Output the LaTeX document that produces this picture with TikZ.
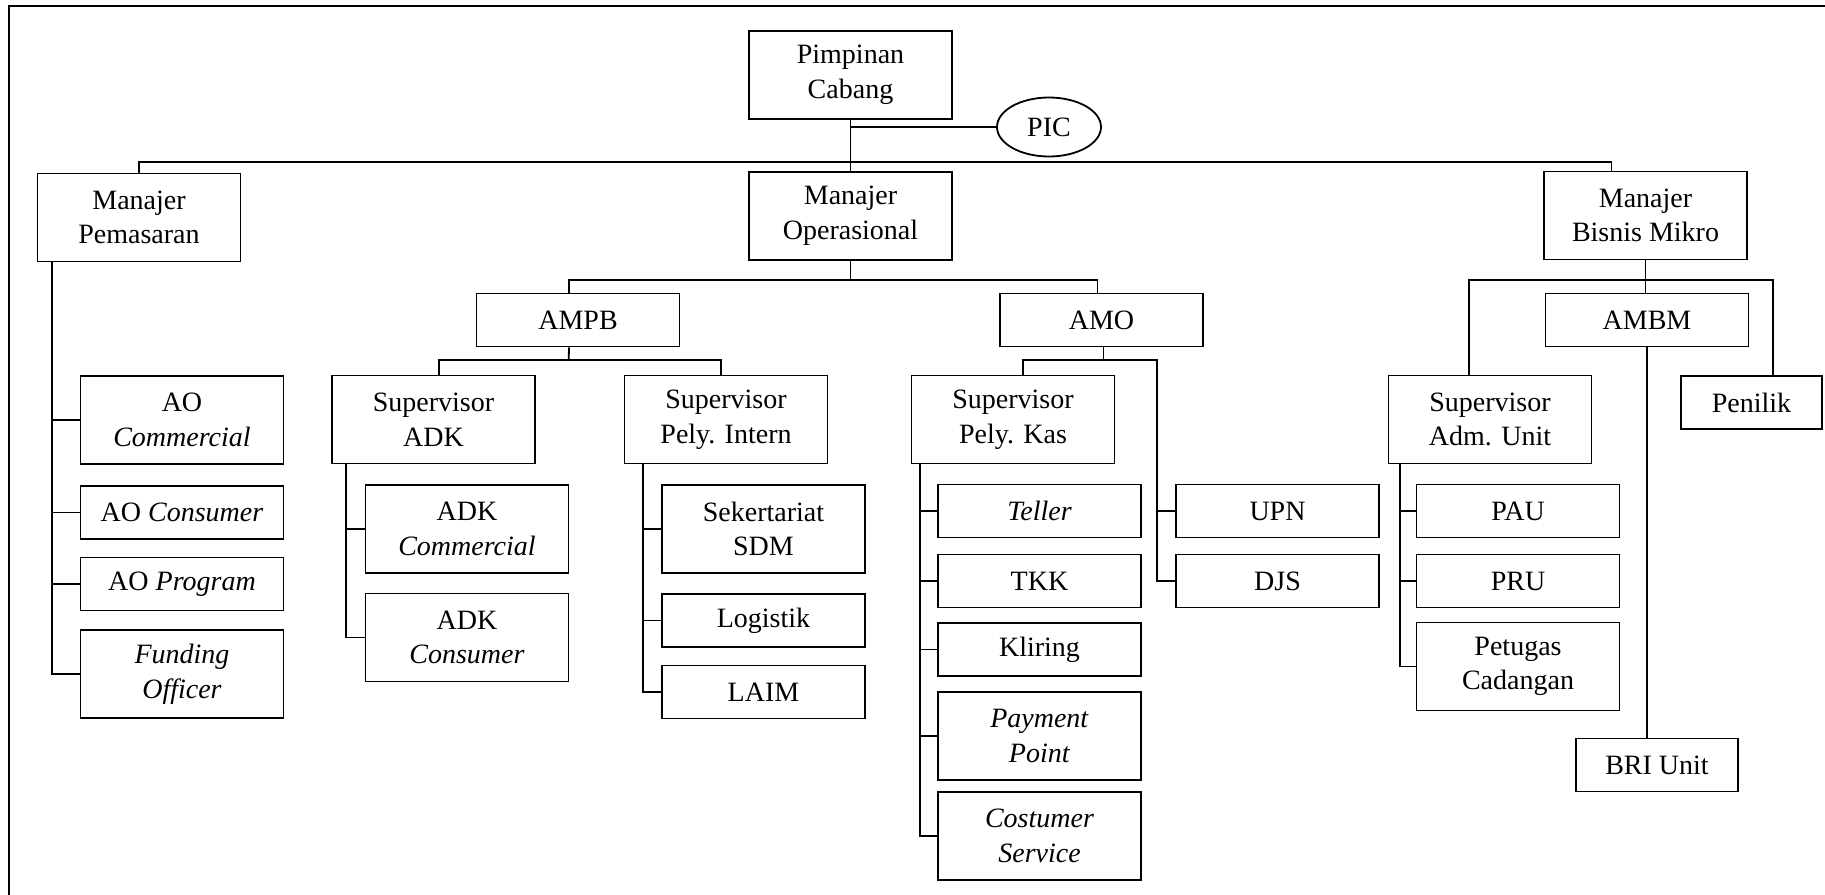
\documentclass[tikz,border=0pt]{standalone}
\usepackage{fontspec}
\setmainfont{Liberation Serif}
\usetikzlibrary{shapes.geometric,calc}

\tikzset{
  unit/.style={draw, line width=0.9pt, minimum width=101.5pt, minimum height=26.5pt,
    inner sep=1pt, align=center, font=\fontsize{14}{17.3}\selectfont},
  unitbig/.style={unit, minimum height=44pt},
  link/.style={line width=0.9pt},
}

\begin{document}
\begin{tikzpicture}[x=0.5pt, y=-0.5pt]
  \useasboundingbox (0,0) rectangle (1825,894);
  \clip (0,0) rectangle (1825,894);
  % Frame
  \draw[line width=1.2pt] (9,950) -- (9,6) -- (1900,6);

  % Top
  \node[unitbig] (pc) at (850.5,75) {Pimpinan\\Cabang};
  \node[ellipse, draw, line width=0.9pt, minimum width=52pt, minimum height=29.5pt, inner sep=0pt,
    font=\fontsize{14}{17.3}\selectfont] (pic) at (1049,127) {PIC};

  % Managers
  \node[unitbig] (mp) at (139,217.5) {Manajer\\Pemasaran};
  \node[unitbig] (mo) at (850.5,216) {Manajer\\Operasional};
  \node[unitbig] (mbm) at (1645.5,215.5) {Manajer\\Bisnis Mikro};

  % Assistant managers
  \node[unit] (ampb) at (578,320) {AMPB};
  \node[unit] (amo) at (1101.5,320) {AMO};
  \node[unit] (ambm) at (1647,320) {AMBM};

  % Pemasaran
  \node[unitbig] (aoc) at (182,420) {AO\\\textit{Commercial}};
  \node[unit] (aocs) at (182,512.5) {AO \textit{Consumer}};
  \node[unit] (aop) at (182,584) {AO \textit{Program}};
  \node[unitbig] (fo) at (182,674) {\textit{Funding}\\\textit{Officer}};

  % AMPB
  \node[unitbig] (sadk) at (433.5,419.5) {Supervisor\\ADK};
  \node[unitbig] (adkc) at (467,529) {ADK\\\textit{Commercial}};
  \node[unitbig] (adkcs) at (467,637.5) {ADK\\\textit{Consumer}};
  \node[unitbig] (spi) at (726,419.5) {Supervisor\\Pely. Intern};
  \node[unitbig] (sdm) at (763.5,529) {Sekertariat\\SDM};
  \node[unit] (log) at (763.5,620.5) {Logistik};
  \node[unit] (laim) at (763.5,692) {LAIM};

  % AMO
  \node[unitbig] (spk) at (1013,419.5) {Supervisor\\Pely. Kas};
  \node[unit] (tel) at (1039.5,511) {\textit{Teller}};
  \node[unit] (tkk) at (1039.5,581) {TKK};
  \node[unit] (kli) at (1039.5,649.5) {Kliring};
  \node[unitbig] (pp) at (1039.5,736) {\textit{Payment}\\\textit{Point}};
  \node[unitbig] (cs) at (1039.5,836) {\textit{Costumer}\\\textit{Service}};
  \node[unit] (upn) at (1277.5,511) {UPN};
  \node[unit] (djs) at (1277.5,581) {DJS};

  % AMBM
  \node[unitbig] (sau) at (1490,419.5) {Supervisor\\Adm. Unit};
  \node[unit, minimum width=70.5pt] (pen) at (1751.5,402.5) {Penilik};
  \node[unit] (pau) at (1518,511) {PAU};
  \node[unit] (pru) at (1518,581) {PRU};
  \node[unitbig] (ptc) at (1518,666.5) {Petugas\\Cadangan};
  \node[unit, minimum width=81pt] (bri) at (1657,765) {BRI Unit};

  % Lines from the top
  \coordinate (top) at (850.5,162);
  \draw[link] (pc.south) -- (mo.north);
  \draw[link] (pic.west) -- (pic.west -| pc.south);
  \draw[link] (mp.north) |- (top) -| ($(mbm.north)+(-34,0)$);

  % Operasional
  \coordinate (op) at (850.5,280);
  \draw[link] (mo.south) -- (op);
  \draw[link] ($(ampb.north)+(-9,0)$) |- (op) -| ($(amo.north)+(-4,0)$);

  % Bisnis Mikro
  \coordinate (mik) at (1645.5,280);
  \draw[link] (mbm.south) -- (mbm.south |- ambm.north);
  \draw[link] ($(sau.north)+(-21,0)$) |- (mik) -| ($(pen.north)+(21.5,0)$);
  \draw[link] (ambm.south) -- (ambm.south |- bri.north);

  % AMPB branches
  \coordinate (pb) at (568.7,359.6);
  \draw[link] ($(ampb.south)+(-9,0)$) -- (pb);
  \draw[link] ($(sadk.north)+(5.5,0)$) |- (pb) -| ($(spi.north)+(-5.3,0)$);

  % AMO branches
  \coordinate (ob) at (1103.5,359.6);
  \coordinate (ov) at (1157,359.6);
  \draw[link] ($(amo.south)+(2,0)$) -- (ob);
  \draw[link] ($(spk.north)+(9.7,0)$) |- (ob) -- (ov) |- (djs.west);
  \draw[link] (upn.west) -- (upn.west -| ov);

  % Pemasaran column
  \draw[link] ($(mp.south west)+(15,0)$) coordinate (vmp) |- (fo.west);
  \draw[link] (aoc.west) -- (aoc.west -| vmp);
  \draw[link] (aocs.west) -- (aocs.west -| vmp);
  \draw[link] (aop.west) -- (aop.west -| vmp);

  % ADK column
  \draw[link] ($(sadk.south west)+(15,0)$) coordinate (vadk) |- (adkcs.west);
  \draw[link] (adkc.west) -- (adkc.west -| vadk);

  % Intern column
  \draw[link] ($(spi.south west)+(19,0)$) coordinate (vpi) |- (laim.west);
  \draw[link] (sdm.west) -- (sdm.west -| vpi);
  \draw[link] (log.west) -- (log.west -| vpi);

  % Kas column
  \draw[link] ($(spk.south west)+(9,0)$) coordinate (vkas) |- (cs.west);
  \draw[link] (tel.west) -- (tel.west -| vkas);
  \draw[link] (tkk.west) -- (tkk.west -| vkas);
  \draw[link] (kli.west) -- (kli.west -| vkas);
  \draw[link] (pp.west) -- (pp.west -| vkas);

  % Adm. Unit column
  \draw[link] ($(sau.south west)+(12,0)$) coordinate (vsau) |- (ptc.west);
  \draw[link] (pau.west) -- (pau.west -| vsau);
  \draw[link] (pru.west) -- (pru.west -| vsau);
\end{tikzpicture}
\end{document}
